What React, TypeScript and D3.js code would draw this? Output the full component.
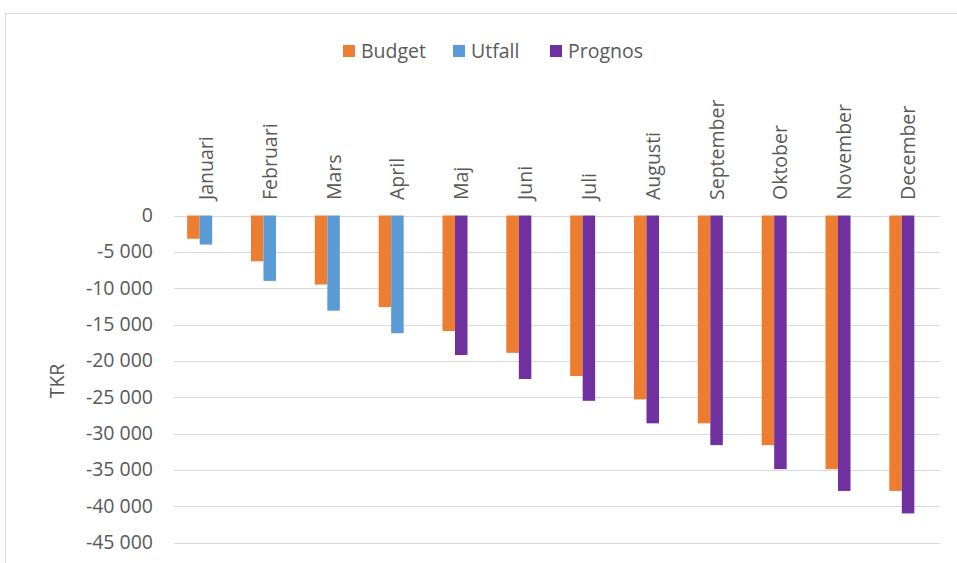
import React, { useRef, useEffect } from 'react';
import * as d3 from 'd3';

const months = ['Januari', 'Februari', 'Mars', 'April', 'Maj', 'Juni', 'Juli', 'Augusti', 'September', 'Oktober', 'November', 'December'];
const budget = [-3200, -6300, -9500, -12600, -15900, -18900, -22100, -25300, -28600, -31600, -34900, -37900];
const utfall = [-4000, -9000, -13100, -16200, null, null, null, null, null, null, null, null];
const prognos = [null, null, null, null, -19200, -22500, -25500, -28600, -31600, -34900, -37900, -41000];
const yTicks = [0, -5000, -10000, -15000, -20000, -25000, -30000, -35000, -40000, -45000];

const seriesList = [
  { name: 'Budget', values: budget, color: '#ED7D31', slot: 0 },
  { name: 'Utfall', values: utfall, color: '#5B9BD5', slot: 1 },
  { name: 'Prognos', values: prognos, color: '#7030A0', slot: 1 },
];

function BudgetChart() {
  const ref = useRef<SVGSVGElement>(null);

  useEffect(() => {
    const svg = d3.select(ref.current);
    svg.selectAll('*').remove();

    const width = 957, height = 563;
    const font = "'Open Sans', sans-serif";
    const fs = 19.5;

    svg.attr('width', width).attr('height', height);

    // chart frame
    svg.append('rect')
      .attr('x', 5.5).attr('y', 13.5)
      .attr('width', 980).attr('height', 600)
      .attr('fill', 'white').attr('stroke', '#d9d9d9');

    const x = d3.scaleBand().domain(months).range([174, 940]);
    const y = d3.scaleLinear().domain([0, -45000]).range([215.5, 542.5]);
    const inner = d3.scaleBand<number>().domain([0, 1, 2]).range([0, 37.5]);
    const groupOffset = (x.bandwidth() - 37.5) / 2;

    svg.append('g')
      .selectAll('line')
      .data(yTicks)
      .join('line')
      .attr('x1', 174).attr('x2', 940)
      .attr('y1', (d) => Math.round(y(d)) + 0.5)
      .attr('y2', (d) => Math.round(y(d)) + 0.5)
      .attr('stroke', '#d9d9d9');

    svg.append('g')
      .selectAll('text')
      .data(yTicks)
      .join('text')
      .attr('x', 153)
      .attr('y', (d) => y(d) + 6.5)
      .attr('text-anchor', 'end')
      .attr('font-family', font)
      .attr('font-size', fs)
      .attr('fill', '#595959')
      .text((d) => d3.format(',')(d).replace(/,/g, ' ').replace('−', '-'));

    seriesList.forEach((s) => {
      svg.append('g')
        .selectAll('rect')
        .data(s.values.map((v, i) => ({ v, m: months[i] })).filter((d) => d.v !== null))
        .join('rect')
        .attr('x', (d) => (x(d.m) as number) + groupOffset + (inner(s.slot) as number))
        .attr('y', y(0))
        .attr('width', inner.bandwidth())
        .attr('height', (d) => y(d.v as number) - y(0))
        .attr('fill', s.color);
    });

    svg.append('g')
      .selectAll('text')
      .data(months)
      .join('text')
      .attr('transform', (d) => `translate(${(x(d) as number) + x.bandwidth() / 2 + 7},200) rotate(-90)`)
      .attr('text-anchor', 'start')
      .attr('font-family', font)
      .attr('font-size', fs)
      .attr('fill', '#595959')
      .text((d) => d);

    svg.append('text')
      .attr('transform', 'translate(64,381) rotate(-90)')
      .attr('text-anchor', 'middle')
      .attr('font-family', font)
      .attr('font-size', fs)
      .attr('fill', '#595959')
      .text('TKR');

    const legendX = [343, 453, 550];
    seriesList.forEach((s, i) => {
      const g = svg.append('g').attr('transform', `translate(${legendX[i]},45)`);
      g.append('rect').attr('width', 12).attr('height', 12).attr('fill', s.color);
      g.append('text')
        .attr('x', 18).attr('y', 13)
        .attr('font-family', font)
        .attr('font-size', fs)
        .attr('fill', '#595959')
        .text(s.name);
    });
  }, []);

  return <svg ref={ref} style={{ position: 'absolute', left: 0, top: 0 }}></svg>;
}

export default function App() {
  return <BudgetChart />;
}
